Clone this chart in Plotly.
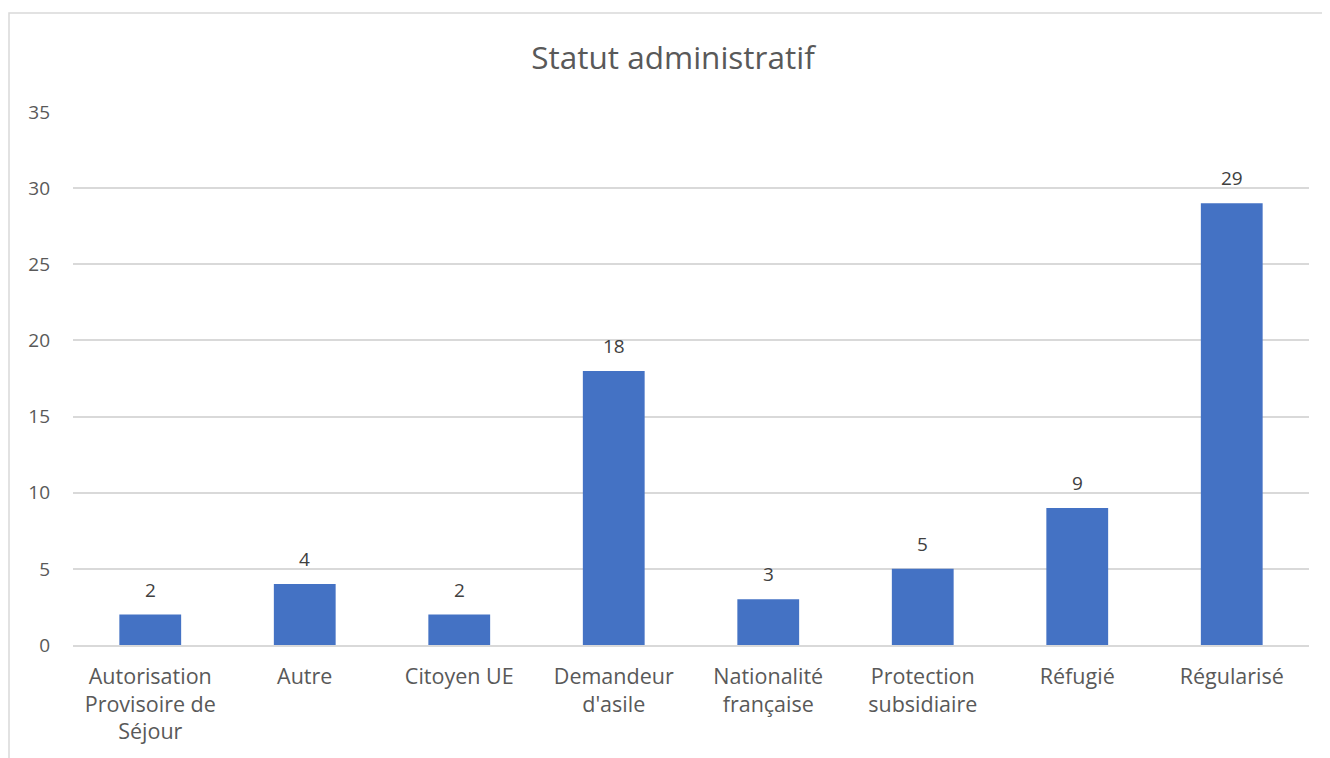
import plotly.graph_objects as go

categories = ["Autorisation<br>Provisoire de<br>Séjour", "Autre", "Citoyen UE", "Demandeur<br>d'asile",
              "Nationalité<br>française", "Protection<br>subsidiaire", "Réfugié", "Régularisé"]
values = [2, 4, 2, 18, 3, 5, 9, 29]
y_ticks = [0, 5, 10, 15, 20, 25, 30, 35]
title_text = "Statut administratif"

# page has an 8px body margin; figure is sized so that it fills the 1330x758 window
OFF = 8
W, H = 1330 - OFF, 758 - OFF
L, R, T, B = 73 - OFF, 21, 112 - OFF, 113
pw, ph = W - L - R, H - T - B
FONT = "Open Sans, Lato, sans-serif"

fig = go.Figure(go.Bar(
    x=categories, y=values, marker=dict(color="#4472C4", line=dict(width=0)),
    width=0.4, cliponaxis=False,
))

for c, v in zip(categories, values):
    fig.add_annotation(x=c, y=v, text=str(v), showarrow=False, yanchor="bottom", yshift=10,
                       font=dict(family=FONT, size=19, color="#404040"))

def px_x(x):
    return (x - OFF - L) / pw

def px_y(y):
    return (H - B - (y - OFF)) / ph

fig.update_layout(
    width=W, height=H, margin=dict(l=L, r=R, t=T, b=B),
    paper_bgcolor="white", plot_bgcolor="white",
    title=dict(text=title_text, x=(673 - OFF) / W, xanchor="center", y=1 - (58 - OFF) / H, yanchor="middle",
               font=dict(family=FONT, size=31.5, color="#595959")),
    font=dict(family=FONT, size=19, color="#595959"),
    showlegend=False, bargap=0.6,
    xaxis=dict(showgrid=False, showline=True, linecolor="#D9D9D9", linewidth=1.5,
               ticks="", ticklabelstandoff=11, tickfont=dict(size=21.5, color="#595959")),
    yaxis=dict(range=[0, 35], tickvals=y_ticks, showgrid=True, gridcolor="#D9D9D9", gridwidth=1.5,
               zeroline=False, showline=False, ticks="", ticklabelstandoff=22,
               tickfont=dict(size=19, color="#595959")),
    shapes=[dict(type="rect", xref="paper", yref="paper",
                 x0=px_x(9), x1=px_x(1345), y0=px_y(775), y1=px_y(13),
                 line=dict(color="#D9D9D9", width=1.5), fillcolor="rgba(0,0,0,0)", layer="below")],
)

fig.write_html("out.html")
